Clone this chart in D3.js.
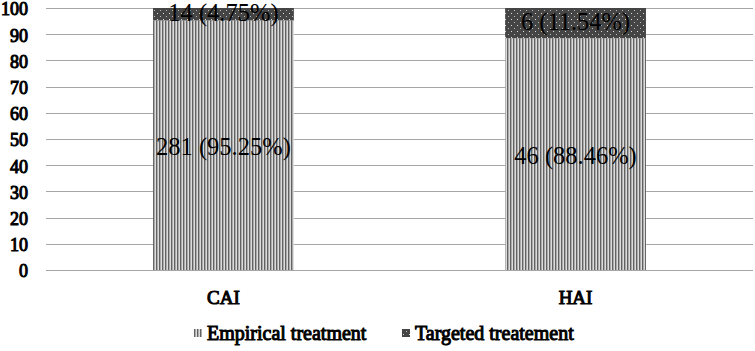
<!DOCTYPE html>
<html><head><meta charset="utf-8">
<script src="https://cdn.jsdelivr.net/npm/d3@7"></script>
<style>body{margin:0;background:#fff}svg{display:block}text{font-family:"Liberation Serif","Times New Roman",serif}
.bold{stroke:#000;stroke-width:1px;paint-order:stroke}</style>
</head><body>
<svg id="chart" width="755" height="351"></svg>
<script>
const categories = ['CAI', 'HAI'];
const seriesNames = ['Empirical treatment', 'Targeted treatement'];
const empirical = [95.25, 88.46];
const targeted = [4.75, 11.54];
const labels = [['281 (95.25%)', '46 (88.46%)'], ['14 (4.75%)', '6 (11.54%)']];
const yTicks = [0, 10, 20, 30, 40, 50, 60, 70, 80, 90, 100];

const svg = d3.select('#chart');
const m = {left: 46, right: 2, top: 8, bottom: 81};
const W = 755, H = 351;

const defs = svg.append('defs');
const stripes = defs.append('pattern').attr('id', 'stripes')
  .attr('patternUnits', 'userSpaceOnUse').attr('width', 3).attr('height', 3);
stripes.append('rect').attr('width', 3).attr('height', 3).attr('fill', '#dcdcdc');
stripes.append('rect').attr('width', 1.4).attr('height', 3).attr('fill', '#626262');
const dots = defs.append('pattern').attr('id', 'dots')
  .attr('patternUnits', 'userSpaceOnUse').attr('width', 6).attr('height', 6);
dots.append('rect').attr('width', 6).attr('height', 6).attr('fill', '#454545');
dots.append('rect').attr('x', 1).attr('y', 1).attr('width', 1).attr('height', 1).attr('fill', '#ddd');
dots.append('rect').attr('x', 4).attr('y', 4).attr('width', 1).attr('height', 1).attr('fill', '#bbb');

const x = d3.scaleBand().domain(categories).range([m.left, W - m.right]).paddingInner(0.6).paddingOuter(0.304);
const y = d3.scaleLinear().domain([0, 100]).range([H - m.bottom, m.top]);

// gridlines
svg.append('g').selectAll('line').data(yTicks).join('line')
  .attr('x1', m.left).attr('x2', W - m.right)
  .attr('y1', d => Math.round(y(d)) + 0.5).attr('y2', d => Math.round(y(d)) + 0.5)
  .attr('stroke', '#a6a6a6').attr('stroke-width', 1);

svg.append('g').selectAll('text').data(yTicks).join('text')
  .attr('class', 'bold')
  .attr('x', 28).attr('y', d => y(d) + 1).attr('dy', '0.35em')
  .attr('text-anchor', 'end')
  .attr('font-size', 18)
  .text(d => d);

const rows = categories.map((c, i) => ({cat: c, e: empirical[i], t: targeted[i], i}));
const fills = ['url(#stripes)', 'url(#dots)'];

const stack = d3.stack().keys(['e', 't'])(rows);
stack.forEach((layer, li) => {
  const g = svg.append('g');
  g.selectAll('rect').data(layer).join('rect')
    .attr('x', d => x(d.data.cat)).attr('width', x.bandwidth())
    .attr('y', d => y(d[1])).attr('height', d => y(d[0]) - y(d[1]))
    .attr('fill', fills[li]);
  g.selectAll('text').data(layer).join('text')
    .attr('x', d => x(d.data.cat) + x.bandwidth() / 2)
    .attr('y', d => (y(d[0]) + y(d[1])) / 2 + (li === 1 ? -2 : 1))
    .attr('dy', '0.35em').attr('text-anchor', 'middle')
    .attr('font-size', 24.5)
    .attr('fill', '#000')
    .text(d => labels[li][d.data.i]);
});

svg.append('g').selectAll('text').data(categories).join('text')
  .attr('class', 'bold')
  .attr('x', d => x(d) + x.bandwidth() / 2).attr('y', 297).attr('dy', '0.35em')
  .attr('text-anchor', 'middle')
  .attr('font-size', 19)
  .text(d => d);

// legend
const legX = [194, 402];
const leg = svg.append('g').selectAll('g').data(seriesNames).join('g')
  .attr('transform', (d, i) => `translate(${legX[i]},333)`);
leg.append('rect').attr('x', 0).attr('y', -4).attr('width', 8).attr('height', 8)
  .attr('fill', (d, i) => fills[i]);
leg.append('text').attr('class', 'bold').attr('x', 13).attr('dy', '0.35em')
  .attr('font-size', 20)
  .text(d => d);
</script>
</body></html>
